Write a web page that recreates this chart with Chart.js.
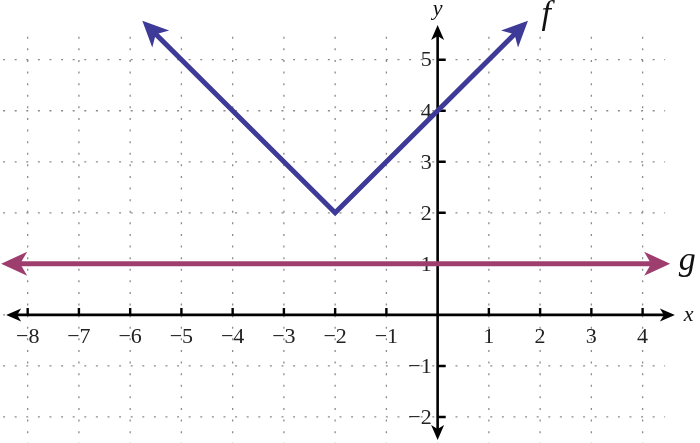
<!DOCTYPE html>
<html>
<head>
<meta charset="utf-8">
<script src="https://cdn.jsdelivr.net/npm/chart.js@4/dist/chart.umd.min.js"></script>
<style>
  html, body { margin: 0; padding: 0; background: #fff; }
  #wrap { width: 700px; height: 443px; }
</style>
</head>
<body>
<div id="wrap"><canvas id="graph" width="700" height="443"></canvas></div>
<script>
// data
const xTicks = [-8, -7, -6, -5, -4, -3, -2, -1, 1, 2, 3, 4];
const yTicks = [-2, -1, 1, 2, 3, 4, 5];
const gridX = [-8, -7, -6, -5, -4, -3, -2, -1, 0, 1, 2, 3, 4];
const gridY = [-2, -1, 0, 1, 2, 3, 4, 5];
const fX = [-5.68, -2, 1.68];
const fY = [5.68, 2, 5.68];
const gX = [-8.4, 4.42];
const gY = [1, 1];

const F_COLOR = 'rgb(62, 58, 152)';
const G_COLOR = 'rgb(158, 62, 110)';

function arrowHead(ctx, x, y, ang, len, half, notch, color) {
    ctx.save();
    ctx.translate(x, y);
    ctx.rotate(ang);
    ctx.fillStyle = color;
    ctx.beginPath();
    ctx.moveTo(0, 0);
    ctx.lineTo(-len, -half);
    ctx.lineTo(-len + notch, 0);
    ctx.lineTo(-len, half);
    ctx.closePath();
    ctx.fill();
    ctx.restore();
}

const axesPlugin = {
    id: 'axes',
    beforeDatasetsDraw(chart) {
        const ctx = chart.ctx;
        const xs = chart.scales.x, ys = chart.scales.y;
        const px = v => xs.getPixelForValue(v);
        const py = v => ys.getPixelForValue(v);
        ctx.save();
        // dotted grid
        ctx.strokeStyle = '#8a8a8a';
        ctx.lineWidth = 1.3;
        ctx.setLineDash([2, 9.6]);
        gridX.forEach(v => {
            ctx.beginPath();
            ctx.moveTo(px(v), py(5.45));
            ctx.lineTo(px(v), 443);
            ctx.stroke();
        });
        gridY.forEach(v => {
            ctx.beginPath();
            ctx.moveTo(px(-8.48), py(v));
            ctx.lineTo(px(4.44), py(v));
            ctx.stroke();
        });
        ctx.setLineDash([]);

        // axes
        ctx.strokeStyle = '#000';
        ctx.lineWidth = 2.6;
        ctx.beginPath();
        ctx.moveTo(px(-8.3), py(0));
        ctx.lineTo(px(4.5), py(0));
        ctx.moveTo(px(0), py(5.5));
        ctx.lineTo(px(0), py(-2.3));
        ctx.stroke();
        arrowHead(ctx, px(4.63), py(0), 0, 15, 6.5, 4, '#000');
        arrowHead(ctx, px(-8.42), py(0), Math.PI, 15, 6.5, 4, '#000');
        arrowHead(ctx, px(0), py(5.68), -Math.PI / 2, 15, 6.5, 4, '#000');
        arrowHead(ctx, px(0), py(-2.45), Math.PI / 2, 15, 6.5, 4, '#000');

        // ticks
        ctx.lineWidth = 2.4;
        ctx.beginPath();
        xTicks.forEach(v => {
            ctx.moveTo(px(v), py(0));
            ctx.lineTo(px(v), py(0) - 7);
        });
        yTicks.forEach(v => {
            ctx.moveTo(px(0), py(v));
            ctx.lineTo(px(0) + 8, py(v));
        });
        ctx.stroke();

        // tick labels
        ctx.fillStyle = '#222';
        ctx.font = '22px "Liberation Serif", serif';
        ctx.textAlign = 'center';
        ctx.textBaseline = 'middle';
        xTicks.forEach(v => {
            const s = v < 0 ? '\u2212' + Math.abs(v) : String(v);
            ctx.fillText(s, px(v), py(0) + 22);
        });
        ctx.textAlign = 'right';
        yTicks.forEach(v => {
            const s = v < 0 ? '\u2212' + Math.abs(v) : String(v);
            ctx.fillText(s, px(0) - 6, py(v) + 1);
        });

        // axis names
        ctx.fillStyle = '#111';
        ctx.font = 'italic 22px "Liberation Serif", serif';
        ctx.textAlign = 'center';
        ctx.fillText('x', px(4.9), py(0));
        ctx.fillText('y', px(0), 9);
        ctx.restore();
    },
    afterDatasetsDraw(chart) {
        const ctx = chart.ctx;
        const xs = chart.scales.x, ys = chart.scales.y;
        const px = v => xs.getPixelForValue(v);
        const py = v => ys.getPixelForValue(v);
        const ext = 6;
        // arrows on f ends
        [[0, 1], [2, 1]].forEach(([i, j]) => {
            const x0 = px(fX[i]), y0 = py(fY[i]);
            const ang = Math.atan2(y0 - py(fY[j]), x0 - px(fX[j]));
            arrowHead(ctx, x0 + ext * Math.cos(ang), y0 + ext * Math.sin(ang), ang, 26, 12, 7, F_COLOR);
        });
        // arrows on g ends
        arrowHead(ctx, px(gX[0]) - ext, py(gY[0]), Math.PI, 26, 12, 7, G_COLOR);
        arrowHead(ctx, px(gX[1]) + ext, py(gY[1]), 0, 26, 12, 7, G_COLOR);

        ctx.save();
        ctx.fillStyle = '#111';
        ctx.font = 'italic 34px "Liberation Serif", serif';
        ctx.textAlign = 'center';
        ctx.textBaseline = 'middle';
        ctx.fillText('f', px(2.12), 15);
        ctx.fillText('g', px(4.87), py(1) - 3);
        ctx.restore();
    }
};

new Chart(document.getElementById('graph'), {
    type: 'scatter',
    data: {
        datasets: [
            {
                label: 'f',
                data: fX.map((x, i) => ({ x: x, y: fY[i] })),
                showLine: true,
                borderColor: F_COLOR,
                borderWidth: 5,
                pointRadius: 0,
                borderJoinStyle: 'miter',
                borderCapStyle: 'butt'
            },
            {
                label: 'g',
                data: gX.map((x, i) => ({ x: x, y: gY[i] })),
                showLine: true,
                borderColor: G_COLOR,
                borderWidth: 5,
                pointRadius: 0,
                borderCapStyle: 'butt'
            }
        ]
    },
    options: {
        responsive: false,
        animation: false,
        layout: { padding: 0 },
        plugins: {
            legend: { display: false },
            tooltip: { enabled: false }
        },
        scales: {
            x: { type: 'linear', min: -8.54, max: 5.12, display: false },
            y: { type: 'linear', min: -2.51, max: 6.17, display: false }
        }
    },
    plugins: [axesPlugin]
});
</script>
</body>
</html>
